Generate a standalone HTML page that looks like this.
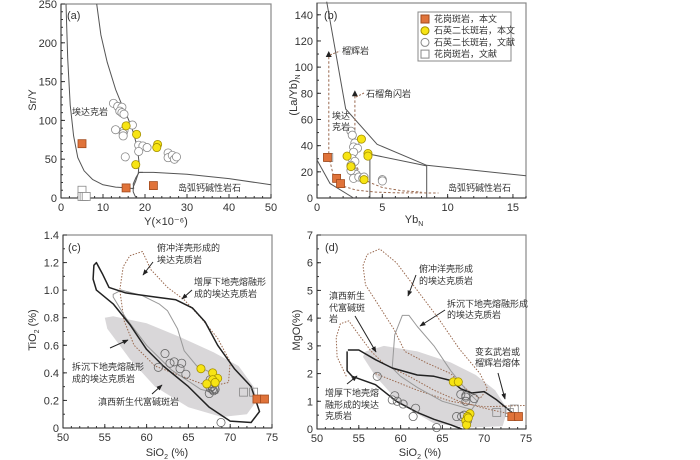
<!DOCTYPE html>
<html><head><meta charset="utf-8">
<style>
html,body{margin:0;padding:0;background:#fff;}
svg{display:block;font-family:"Liberation Sans","Noto Sans CJK SC",sans-serif;}
.cn{font-size:9px;fill:#333;}
.tk{font-size:11px;fill:#333;}
</style></head>
<body>
<svg id="fig" width="700" height="460" viewBox="0 0 700 460" xmlns="http://www.w3.org/2000/svg">
<defs>
<marker id="ah" viewBox="0 0 10 10" refX="9" refY="5" markerWidth="6" markerHeight="6" orient="auto"><path d="M0,1 L10,5 L0,9 z" fill="#222"/></marker>
</defs>
</svg>
<script>
// ---------- Panel (a) data: Y, Sr/Y ----------
const aOrangeY=[5,15.5,22], aOrangeV=[70,13,16];
const aYellowY=[15.5,18,23,22.8,17.8], aYellowV=[93,82,69,65,43];
const aCircleY=[12.5,13.5,14.5,14,14.5,15,13,15,14.8,14.8,17,18.5,19.5,20.5,18.5,15.3,25.5,25.5,26.5,27,27.5];
const aCircleV=[122,118,117,112,110,108,88,87,83,80,94,68,67,65,60,53,58,52,55,50,53];
const aSquareY=[5,5,5.5,6], aSquareV=[10,2,2,2];
const aLeftCurve=[[1.2,250],[1.6,180],[2.2,120],[3,80],[4,52],[5.5,35],[7.5,24],[10,17],[13,14],[16,13],[17.3,12]];
const aRightCurve=[[8.5,250],[9.5,210],[11,175],[13,140],[14.5,120],[16,102],[17.2,85],[18.2,65],[18.6,45],[18.4,32],[17.8,22],[17.2,14],[17.2,8],[17.6,3],[18,0]];
const aLoop=[[17.3,12],[17.2,18],[17.8,26],[18.6,33],[19.5,33]];
const aCalcLine=[[18.6,33],[22,33],[30,30.5],[40,25],[50,17]];
// ---------- Panel (b) data: YbN, (La/Yb)N ----------
const bOrangeX=[0.8,1.5,1.8], bOrangeV=[31,15,11];
const bYellowX=[3.4,2.3,3.9,3.9,2.6,3.6], bYellowV=[45,32,34,32,24,14];
const bCircleX=[2.6,2.7,2.9,2.8,3.1,2.8,2.7,2.9,2.6,2.7,2.8,3.0,2.8,3.2,3.5,5,5,2.6,3.6];
const bCircleV=[51,48,42,39,38,35,30,28,25,22,20,18,15,16,15,14,13,21,16];
const bSquareX=[0.9], bSquareV=[31];
const bBoundary=[[0.74,150],[2.2,68],[4.6,41],[8.4,25],[16,17]];
const bInner=[[4.05,0],[4.05,33.5],[8.4,24.5],[8.4,0]];
const bLower=[[0,29],[1,11],[2.8,0]];
const bDash1=[[0.9,108],[0.9,32],[1.3,15],[2,9],[3,6],[4.5,4.5],[6,4],[9.3,3.8]];
const bDash2=[[2.9,78],[2.9,28],[3.3,18],[4,12],[5,8],[6.5,5.5],[8,4.5]];
// ---------- Panel (c) data: SiO2, TiO2 ----------
const cOrangeX=[73.2,74.1], cOrangeV=[0.21,0.21];
const cSquareX=[71.6,72.8], cSquareV=[0.26,0.26];
const cYellowX=[66.5,67.9,68.5,67.9,67.2,68.2], cYellowV=[0.43,0.40,0.36,0.35,0.32,0.33];
const cCircleX=[62.2,61.4,62.8,63.3,64.2,64,64.7,67.6,67.8,67.6,68,68.2,67.5,67.9,68.9,67.8];
const cCircleV=[0.54,0.44,0.47,0.48,0.47,0.43,0.39,0.35,0.32,0.29,0.27,0.28,0.25,0.28,0.04,0.3];
const cShade=[[55,0.8],[56,0.81],[60,0.76],[64,0.66],[68,0.55],[71,0.45],[72.8,0.3],[73.2,0.2],[72,0.1],[69,0.08],[65,0.15],[61,0.3],[58,0.5],[55.3,0.72]];
const cThick=[[54,1.2],[54.7,1.12],[55.5,1.02],[57.5,0.98],[61,0.95],[63.5,0.93],[65.5,0.87],[67,0.77],[68.5,0.6],[70.5,0.43],[72.5,0.3],[73.5,0.12],[72.5,0.04],[70,0.05],[67.5,0.15],[65,0.3],[62,0.45],[60,0.57],[58,0.75],[56,0.9],[54,1.0],[53.6,1.08],[53.7,1.18]];
const cDelam=[[56,0.97],[57,1.0],[59.5,0.96],[61.5,0.9],[62.5,0.85],[63.7,0.72],[64.5,0.56],[66,0.45],[67.8,0.4],[68.7,0.33],[68.5,0.25],[66.5,0.28],[63,0.42],[60,0.6],[57.5,0.8],[56,0.95]];
const cOcean=[[58,1.25],[59.5,1.28],[60.5,1.15],[62.5,1.02],[64.5,0.93],[66.5,0.8],[68.5,0.65],[70,0.48],[69.8,0.33],[67.5,0.3],[64,0.38],[61,0.45],[58.5,0.6],[57.3,0.78],[56.8,1.0],[57.2,1.17]];
// ---------- Panel (d) data: SiO2, MgO ----------
const dOrangeX=[73.3,74.1], dOrangeV=[0.45,0.45];
const dSquareX=[71.5,73,73.6], dSquareV=[0.6,0.6,0.72];
const dYellowX=[66.3,66.9,68.3,68,67.8,67.9,68.1], dYellowV=[1.7,1.7,0.55,0.45,0.3,0.15,0.4];
const dCircleX=[57.2,59.3,59,59.6,60.3,61.8,61.5,64.3,67.2,67.8,67.8,68.8,67.8,66.7,67.3,67.6,68];
const dCircleV=[1.9,1.2,1.05,1.0,0.9,0.75,0.45,0.05,1.25,1.2,1.0,1.1,1.15,0.45,0.45,0.5,0.3];
const dShade=[[55.8,2.8],[58,3.0],[62,2.8],[66,2.4],[69,1.95],[71.3,1.4],[72.8,0.7],[72.2,0.1],[68,0.05],[64,0.2],[60,0.9],[57,1.9],[55.5,2.6]];
const dThick=[[53.7,2.85],[55,2.85],[57,2.5],[59,2.2],[62,1.95],[64,1.9],[66,1.75],[67.2,1.45],[68.5,1.3],[70,1.35],[71.5,1.05],[73.3,0.6],[74,0.4]];
const dThickLow=[[53.6,2.8],[53.6,2.1],[54.2,1.9],[57,1.6],[59.5,1.0],[62,0.6],[64,0.35],[66,0.15],[67.3,0]];
const dOcean=[[56,6.3],[57.5,6.5],[59.5,6.0],[62,5.0],[64.5,4.0],[67,2.9],[69.5,2.0],[70.4,1.45],[69.5,1.1],[68,1.4],[66,2.0],[63,2.4],[60.5,2.8],[59.2,3.6],[57.3,4.5],[55.8,5.2],[55.5,5.9]];
const dSmall=[[53.5,1.9],[52.4,2.6],[52.3,3.3],[52.8,3.8],[53.8,3.9],[55,3.4],[56.5,2.8],[58,2.35],[61,1.9],[64,1.4],[67,1.0],[70,0.75],[73,0.55]];
const dRightDot=[[57,2.0],[62,1.4],[66,1.0],[70,0.8],[75,0.85]];
const dDelam=[[59,2.2],[59.3,3.4],[60.2,4.1],[61,4.1],[62,3.7],[64,3.0],[66,2.1],[68,1.35],[69.2,1.0],[68.5,0.7],[65,1.0],[62,1.5],[60,1.9]];

const NS="http://www.w3.org/2000/svg";
const svg=document.getElementById('fig');
function el(tag,attrs,parent){const e=document.createElementNS(NS,tag);for(const k in attrs)e.setAttribute(k,attrs[k]);(parent||svg).appendChild(e);return e;}
function mkAxis(px0,px1,py0,py1,x0,x1,y0,y1){return{sx:v=>px0+(v-x0)/(x1-x0)*(px1-px0),sy:v=>py0+(v-y0)/(y1-y0)*(py1-py0),px0,px1,py0,py1};}
function frame(ax,g,xt,yt,xminor,yminor,xlabs,ylabs){
  el('rect',{x:ax.px0,y:ax.py1,width:ax.px1-ax.px0,height:ax.py0-ax.py1,fill:'none',stroke:'#888','stroke-width':1.2},g);
  el('line',{x1:ax.px0,y1:ax.py1,x2:ax.px0,y2:ax.py0,stroke:'#333','stroke-width':1},g);
  el('line',{x1:ax.px0,y1:ax.py0,x2:ax.px1,y2:ax.py0,stroke:'#333','stroke-width':1},g);
  xminor.forEach(v=>{const x=ax.sx(v);el('line',{x1:x,y1:ax.py0,x2:x,y2:ax.py0-2,stroke:'#333'},g);});
  yminor.forEach(v=>{const y=ax.sy(v);el('line',{x1:ax.px0,y1:y,x2:ax.px0+2,y2:y,stroke:'#333'},g);});
  xt.forEach((v,i)=>{const x=ax.sx(v);el('line',{x1:x,y1:ax.py0,x2:x,y2:ax.py0-4,stroke:'#333'},g);
    const t=el('text',{x:x,y:ax.py0+13,'text-anchor':'middle',class:'tk'},g);t.textContent=xlabs[i];
    
    });
  yt.forEach((v,i)=>{const y=ax.sy(v);el('line',{x1:ax.px0,y1:y,x2:ax.px0+4,y2:y,stroke:'#333'},g);
    const t=el('text',{x:ax.px0-4,y:y+4,'text-anchor':'end',class:'tk'},g);t.textContent=ylabs[i];
    
    });
}
function pathD(ax,pts,close){return pts.map((p,i)=>(i?'L':'M')+ax.sx(p[0]).toFixed(1)+','+ax.sy(p[1]).toFixed(1)).join(' ')+(close?' Z':'');}
function curve(ax,g,pts,style,close,name){const p=el('path',Object.assign({d:pathD(ax,pts,close),fill:'none','stroke-linejoin':'round'},style),g);
  
  return p;}
function circles(ax,g,xs,vs,fill,stroke,name){xs.forEach((x,i)=>{const c=el('circle',{cx:ax.sx(x),cy:ax.sy(vs[i]),r:4.1,fill:fill,stroke:stroke,'stroke-width':0.8},g);
  
  });}
function squares(ax,g,xs,vs,fill,stroke,name){xs.forEach((x,i)=>{const s=el('rect',{x:ax.sx(x)-4,y:ax.sy(vs[i])-4,width:8,height:8,fill:fill,stroke:stroke,'stroke-width':0.8},g);
  
  });}
function txt(g,x,y,s,cls,name,anchor){const t=el('text',{x:x,y:y,class:cls||'cn','text-anchor':anchor||'start'},g);t.textContent=s;
  
  return t;}
function arrow(g,x1,y1,x2,y2){const l=el('line',{x1,y1,x2,y2,stroke:'#222','stroke-width':1,'marker-end':'url(#ah)'},g);
  
  }
function range(a,b,s){const r=[];for(let v=a;v<=b+1e-9;v+=s)r.push(+v.toFixed(4));return r;}
function group(name){const g=el('g',{});return g;}
const ORG='#e0733a', ORGS='#a24a1c', YEL='#f7e414', YELS='#a38f00', CIR='#888', BRN='#9a6a50';
const dot={stroke:BRN,'stroke-width':1,'stroke-dasharray':'1.5,1.5'};

// ===== Panel a =====
{const g=group('panel-a');const ax=mkAxis(61,271,198,4,0,50,0,250);
 frame(ax,g,[0,10,20,30,40,50],[0,50,100,150,200,250],range(0,50,2),range(0,250,10),['0','10','20','30','40','50'],['0','50','100','150','200','250']);
 curve(ax,g,aLeftCurve,{stroke:'#555','stroke-width':1},false,'adakite-boundary-left');
 curve(ax,g,aRightCurve,{stroke:'#555','stroke-width':1},false,'adakite-boundary-right');
 curve(ax,g,aLoop,{stroke:'#555','stroke-width':1},false,'boundary-loop');
 curve(ax,g,aCalcLine,{stroke:'#555','stroke-width':1},false,'arc-calcalkaline-boundary');
 squares(ax,g,aSquareY,aSquareV,'#fff','#888','granite-porphyry-literature');
 circles(ax,g,aCircleY,aCircleV,'#fff',CIR,'quartz-monzonite-literature');
 circles(ax,g,aYellowY,aYellowV,YEL,YELS,'quartz-monzonite-this-study');
 squares(ax,g,aOrangeY,aOrangeV,ORG,ORGS,'granite-porphyry-this-study');
 txt(g,67,19,'(a)','tk','panel-label-a');
 txt(g,72,115,'埃达克岩','cn','adakite-field-label');
 txt(g,178,191,'岛弧钙碱性岩石','cn','arc-field-label');
 txt(g,166,225,'Y(×10⁻⁶)','tk','x-axis-title-a','middle');
 const yt=txt(g,0,0,'Sr/Y','tk','y-axis-title-a','middle');yt.setAttribute('transform','translate(36,100) rotate(-90)');
}
// ===== Panel b =====
{const g=group('panel-b');const ax=mkAxis(317,526,198,3,0,16,0,149);
 frame(ax,g,[0,5,10,15],[0,20,40,60,80,100,120,140],range(0,16,1),range(0,140,10),['0','5','10','15'],['0','20','40','60','80','100','120','140']);
 curve(ax,g,bBoundary,{stroke:'#555','stroke-width':1},false,'adakite-boundary');
 curve(ax,g,bInner,{stroke:'#555','stroke-width':1},false,'inner-boundary');
 curve(ax,g,bLower,{stroke:'#555','stroke-width':1},false,'lower-boundary');
 curve(ax,g,bDash1,{stroke:BRN,'stroke-width':1,'stroke-dasharray':'2.5,2'},false,'eclogite-melting-trend');
 curve(ax,g,bDash2,{stroke:BRN,'stroke-width':1,'stroke-dasharray':'2.5,2'},false,'garnet-amphibolite-melting-trend');
 [[0.9,110],[2.9,80]].forEach(p=>{const t=el('path',{d:`M${ax.sx(p[0])-3},${ax.sy(p[1])+3} L${ax.sx(p[0])+3},${ax.sy(p[1])+3} L${ax.sx(p[0])},${ax.sy(p[1])-3} Z`,fill:'#222'},g);
  
  });
 squares(ax,g,bSquareX,bSquareV,'#fff','#888','granite-porphyry-literature');
 circles(ax,g,bCircleX,bCircleV,'#fff',CIR,'quartz-monzonite-literature');
 circles(ax,g,bYellowX,bYellowV,YEL,YELS,'quartz-monzonite-this-study');
 squares(ax,g,bOrangeX,bOrangeV,ORG,ORGS,'granite-porphyry-this-study');
 el('line',{x1:330,y1:55,x2:340,y2:51,stroke:BRN,'stroke-dasharray':'2,1.5'},g);
 el('line',{x1:356,y1:97,x2:364,y2:93,stroke:BRN,'stroke-dasharray':'2,1.5'},g);
 txt(g,324,19,'(b)','tk','panel-label-b');
 txt(g,342,54,'榴辉岩','cn','eclogite-label');
 txt(g,366,97,'石榴角闪岩','cn','garnet-amphibolite-label');
 txt(g,332,119,'埃达','cn','adakite-label-1');txt(g,332,130,'克岩','cn','adakite-label-2');
 txt(g,448,191,'岛弧钙碱性岩石','cn','arc-field-label');
 const xt=txt(g,414,223,'Yb','tk','x-axis-title-b','middle');const s=el('tspan',{'font-size':7,dy:3},xt);s.textContent='N';
 const yt=txt(g,0,0,'(La/Yb)','tk','y-axis-title-b','middle');yt.setAttribute('transform','translate(297,95) rotate(-90)');const s2=el('tspan',{'font-size':7,dy:3},yt);s2.textContent='N';
 const lg=el('g',{},g);
 el('rect',{x:418,y:12,width:93,height:49,fill:'#fff',stroke:'#888'},lg);
 const items=[['sq',ORG,ORGS,'花岗斑岩，本文'],['ci',YEL,YELS,'石英二长斑岩，本文'],['ci','#fff',CIR,'石英二长斑岩，文献'],['sq','#fff','#888','花岗斑岩，文献']];
 items.forEach((it,i)=>{const y=19+i*11.7;
  const m=it[0]=='sq'?el('rect',{x:421,y:y-4,width:8,height:8,fill:it[1],stroke:it[2]},lg):el('circle',{cx:425,cy:y,r:4,fill:it[1],stroke:it[2]},lg);
  
  
  txt(lg,434,y+3,it[3],'cn','legend-entry');});
}
// ===== Panel c =====
{const g=group('panel-c');const ax=mkAxis(63,272,428,235,50,75,0,1.4);
 frame(ax,g,[50,55,60,65,70,75],[0,0.2,0.4,0.6,0.8,1.0,1.2,1.4],range(50,75,1),range(0,1.4,0.1),['50','55','60','65','70','75'],['0','0.2','0.4','0.6','0.8','1.0','1.2','1.4']);
 const sh=el('path',{d:pathD(ax,cShade,true),fill:'#d9d7d9',stroke:'none'},g);
 curve(ax,g,cOcean,dot,true,'subducted-oceanic-crust-field');
 curve(ax,g,cDelam,{stroke:'#999','stroke-width':1},true,'delaminated-lower-crust-field');
 curve(ax,g,cThick,{stroke:'#222','stroke-width':1.5},true,'thickened-lower-crust-field');
 circles(ax,g,cCircleX,cCircleV,'none','#666','quartz-monzonite-literature');
 squares(ax,g,cSquareX,cSquareV,'none','#888','granite-porphyry-literature');
 circles(ax,g,cYellowX,cYellowV,YEL,YELS,'quartz-monzonite-this-study');
 squares(ax,g,cOrangeX,cOrangeV,ORG,ORGS,'granite-porphyry-this-study');
 txt(g,68,251,'(c)','tk','panel-label-c');
 txt(g,157,251,'俯冲洋壳形成的','cn','oceanic-label-1');txt(g,157,263,'埃达克质岩','cn','oceanic-label-2');
 txt(g,194,285,'增厚下地壳熔融形','cn','thickened-label-1');txt(g,194,297,'成的埃达克质岩','cn','thickened-label-2');
 txt(g,72,370,'拆沉下地壳熔融形','cn','delaminated-label-1');txt(g,72,382,'成的埃达克质岩','cn','delaminated-label-2');
 txt(g,98,405,'滇西新生代富碱斑岩','cn','alkali-porphyry-label');
 arrow(g,153,262,143,275);arrow(g,192,290,182,299);arrow(g,110,348,128,340);arrow(g,152,394,162,385);
 const xt=txt(g,167,456,'SiO','tk','x-axis-title-c','middle');const s=el('tspan',{'font-size':7,dy:3},xt);s.textContent='2';const s3=el('tspan',{dy:-3},xt);s3.textContent=' (%)';
 const yt=txt(g,0,0,'TiO','tk','y-axis-title-c','middle');yt.setAttribute('transform','translate(36,330) rotate(-90)');const s2=el('tspan',{'font-size':7,dy:3},yt);s2.textContent='2';const s4=el('tspan',{dy:-3},yt);s4.textContent=' (%)';
}
// ===== Panel d =====
{const g=group('panel-d');const ax=mkAxis(317,526,429,235,50,75,0,7);
 frame(ax,g,[50,55,60,65,70,75],[0,1,2,3,4,5,6,7],range(50,75,1),range(0,7,0.5),['50','55','60','65','70','75'],['0','1','2','3','4','5','6','7']);
 const sh=el('path',{d:pathD(ax,dShade,true),fill:'#d9d7d9',stroke:'none'},g);
 curve(ax,g,dOcean,dot,true,'subducted-oceanic-crust-field');
 curve(ax,g,dSmall,dot,false,'metabasalt-melt-field');
 curve(ax,g,dRightDot,dot,false,'metabasalt-melt-boundary');
 curve(ax,g,dDelam,{stroke:'#999','stroke-width':1},true,'delaminated-lower-crust-field');
 curve(ax,g,dThick,{stroke:'#222','stroke-width':1.5},false,'thickened-lower-crust-upper');
 curve(ax,g,dThickLow,{stroke:'#222','stroke-width':1.5},false,'thickened-lower-crust-lower');
 circles(ax,g,dCircleX,dCircleV,'none','#666','quartz-monzonite-literature');
 squares(ax,g,dSquareX,dSquareV,'none','#888','granite-porphyry-literature');
 circles(ax,g,dYellowX,dYellowV,YEL,YELS,'quartz-monzonite-this-study');
 squares(ax,g,dOrangeX,dOrangeV,ORG,ORGS,'granite-porphyry-this-study');
 txt(g,325,251,'(d)','tk','panel-label-d');
 txt(g,419,272,'俯冲洋壳形成','cn','oceanic-label-1');txt(g,419,284,'的埃达克质岩','cn','oceanic-label-2');
 txt(g,447,307,'拆沉下地壳熔融形成','cn','delaminated-label-1');txt(g,447,318,'的埃达克质岩','cn','delaminated-label-2');
 txt(g,475,355,'变玄武岩或','cn','metabasalt-label-1');txt(g,475,366,'榴辉岩熔体','cn','metabasalt-label-2');
 txt(g,329,299,'滇西新生','cn','alkali-label-1');txt(g,329,311,'代富碱斑','cn','alkali-label-2');txt(g,329,322,'岩','cn','alkali-label-3');
 txt(g,325,396,'增厚下地壳熔','cn','thickened-label-1');txt(g,325,408,'融形成的埃达','cn','thickened-label-2');txt(g,325,419,'克质岩','cn','thickened-label-3');
 arrow(g,416,275,408,296);arrow(g,445,310,420,326);arrow(g,355,316,376,352);arrow(g,498,373,505,399);arrow(g,347,384,357,376);
 const xt=txt(g,420,456,'SiO','tk','x-axis-title-d','middle');const s=el('tspan',{'font-size':7,dy:3},xt);s.textContent='2';const s3=el('tspan',{dy:-3},xt);s3.textContent=' (%)';
 const yt=txt(g,0,0,'MgO(%)','tk','y-axis-title-d','middle');yt.setAttribute('transform','translate(300,330) rotate(-90)');
}
</script>
</body></html>
